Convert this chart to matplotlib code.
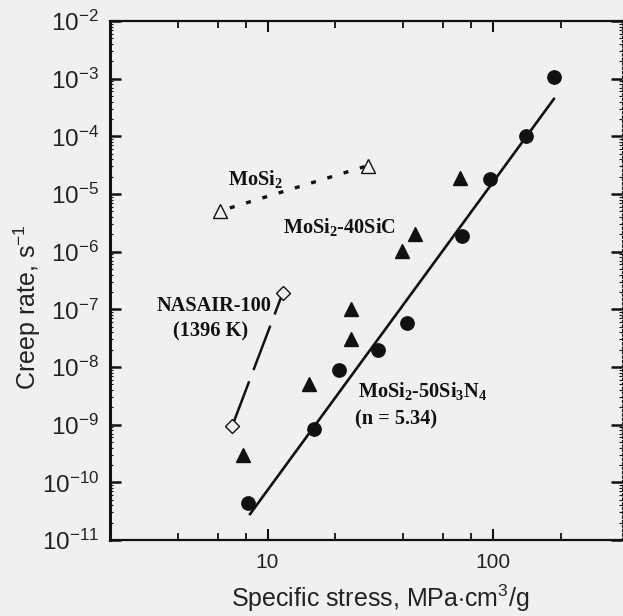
import matplotlib
matplotlib.use("Agg")
import matplotlib.pyplot as plt
import numpy as np
from matplotlib.ticker import FixedLocator, FixedFormatter, LogLocator, NullFormatter

plt.rcParams['font.family'] = ['Liberation Sans', 'DejaVu Sans']
plt.rcParams['mathtext.fontset'] = 'custom'
plt.rcParams['mathtext.rm'] = 'Liberation Sans'
plt.rcParams['mathtext.it'] = 'Liberation Sans:italic'
plt.rcParams['mathtext.bf'] = 'Liberation Serif:bold'

# MoSi2-50Si3N4 (filled circles)
si3n4_stress = [8.2, 16.1, 20.7, 31.0, 41.7, 72.9, 97.5, 140.0, 187.5]
si3n4_rate = [4.3e-11, 8.3e-10, 8.9e-9, 2.0e-8, 5.8e-8, 1.9e-6, 1.8e-5, 1.0e-4, 1.05e-3]
# power-law fit: rate = A * stress**n
fit_n = 5.34
fit_ref_stress = 8.3
fit_ref_rate = 2.7e-11
fit_range = [8.3, 188.0]

# MoSi2-40SiC (filled triangles)
sic_stress = [7.77, 15.2, 23.4, 23.4, 39.7, 45.3, 71.8]
sic_rate = [3.0e-10, 5.1e-9, 3.0e-8, 1.0e-7, 1.04e-6, 2.0e-6, 1.87e-5]

# monolithic MoSi2 (open triangles)
mosi2_stress = [6.15, 27.8]
mosi2_rate = [5.07e-6, 3.1e-5]

# NASAIR-100 superalloy at 1396 K (open diamonds)
nasair_stress = [6.98, 11.7]
nasair_rate = [9.6e-10, 1.95e-7]

x_ticks = [10, 100]
x_ticklabels = ['10', '100']
y_ticks = [10.0 ** e for e in range(-11, -1)]
y_ticklabels = [r'$\mathrm{10^{%d}}$' % e for e in range(-11, -1)]

bg = '#f0f0ee'
ink = '#111111'
text_ink = '#222222'

fig = plt.figure(figsize=(6.23, 6.16), dpi=100, facecolor=bg)
ax = fig.add_axes([110 / 623, 1 - 540 / 616, 512 / 623, 519 / 616])
ax.set_facecolor(bg)
ax.set_xscale('log')
ax.set_yscale('log')
ax.set_xlim(2, 374)
ax.set_ylim(1e-11, 1e-2)

# fit line
fx = np.array(fit_range)
fy = fit_ref_rate * (fx / fit_ref_stress) ** fit_n
ax.plot(fx, fy, color=ink, lw=1.9, solid_capstyle='butt', zorder=2)

# MoSi2 dotted trend
ax.plot(mosi2_stress, mosi2_rate, color=ink, lw=2.4, linestyle=(2.0, (1.5, 3.6)), zorder=2)
# NASAIR-100 long dashes
ax.plot(nasair_stress, nasair_rate, color=ink, lw=1.8, linestyle=(0, (19, 4.8)), zorder=2)

ax.plot(si3n4_stress, si3n4_rate, 'o', ms=9.6, color=ink, mec=ink, zorder=3)
ax.plot(sic_stress, sic_rate, '^', ms=9.5, color=ink, mec=ink, zorder=3)
ax.plot(mosi2_stress, mosi2_rate, '^', ms=10, mfc=bg, mec=ink, mew=1.0, zorder=3)
ax.plot(nasair_stress, nasair_rate, 'D', ms=7.6, mfc=bg, mec=ink, mew=1.0, zorder=3)

# annotations
lab = dict(family=['Liberation Serif', 'DejaVu Serif'], fontweight='bold', fontsize=14.6,
           color=ink, va='baseline', ha='left')
ax.text(6.67, 1.43e-5, r'Mo$\mathbf{Si_2}$', **lab)
ax.text(11.72, 2.1e-6, r'Mo$\mathbf{Si_2}$-40SiC', **lab)
ax.text(3.23, 9.35e-8, 'NASAIR-100', **lab)
ax.text(3.80, 3.36e-8, '(1396 K)', **lab)
ax.text(25.2, 3.05e-9, r'Mo$\mathbf{Si_2}$-50$\mathbf{Si_3N_4}$', **lab)
ax.text(24.5, 9.9e-10, '(n = 5.34)', **lab)

# ticks
ax.xaxis.set_major_locator(FixedLocator(x_ticks))
ax.xaxis.set_major_formatter(FixedFormatter(x_ticklabels))
ax.xaxis.set_minor_locator(LogLocator(base=10, subs=(2, 4, 6, 8), numticks=20))
ax.xaxis.set_minor_formatter(NullFormatter())
ax.yaxis.set_major_locator(FixedLocator(y_ticks))
ax.yaxis.set_major_formatter(FixedFormatter(y_ticklabels))
ax.yaxis.set_minor_locator(LogLocator(base=10, subs=np.arange(2, 10), numticks=20))
ax.yaxis.set_minor_formatter(NullFormatter())

ax.tick_params(which='both', direction='in', colors=ink, labelcolor=text_ink)
ax.tick_params(axis='x', which='major', top=True, length=8, width=1.5, labelsize=15, pad=9)
ax.tick_params(axis='x', which='minor', top=True, length=5, width=1.3)
ax.tick_params(axis='y', which='major', right=True, length=8, width=1.8, labelsize=17.5, pad=8)
ax.tick_params(axis='y', which='minor', left=True, right=True, length=4.5, width=1.3)
ax.tick_params(axis='y', which='minor', right=True, length=2, width=0.8)

ax.spines['left'].set_linewidth(2.2)
for side in ['top', 'bottom']:
    ax.spines[side].set_linewidth(1.6)
ax.spines['right'].set_linewidth(0.8)
ax.spines['right'].set_linestyle((0, (2, 2)))
for s in ax.spines.values():
    s.set_color(ink)

ax.set_xlabel(r'Specific stress, MPa$\cdot$cm$^{3}$/g', fontsize=18, color=text_ink)
ax.set_ylabel(r'Creep rate, s$^{-1}$', fontsize=18, color=text_ink)
ax.xaxis.set_label_coords((380 - 110) / 512, -0.083)
ax.yaxis.set_label_coords(-0.131, 0.449)

fig.savefig('out.png', dpi=100, facecolor=bg)
